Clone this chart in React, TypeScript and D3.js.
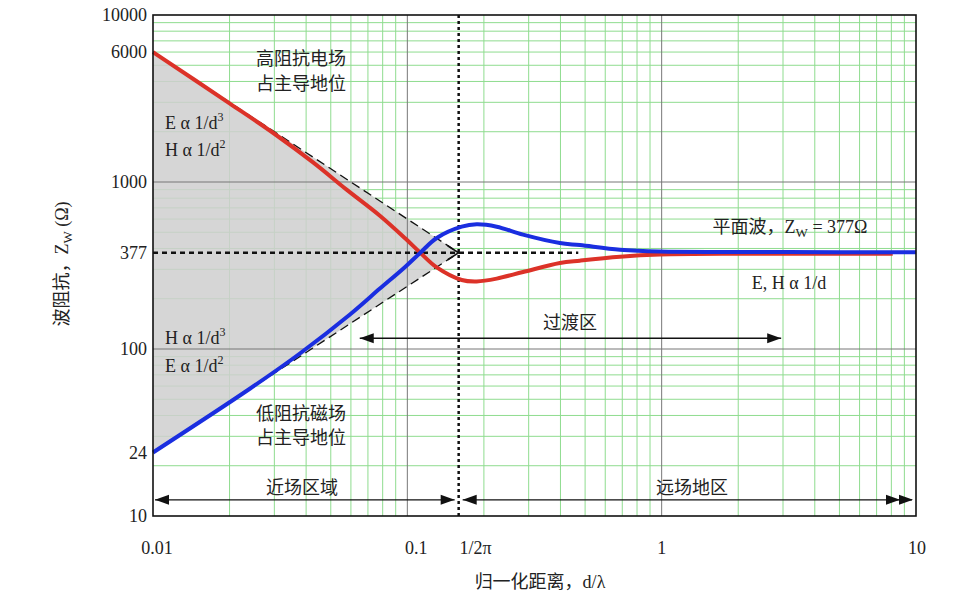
import React from "react";
import * as d3 from "d3";

// ---- data ----
const eDist = [0.01, 0.02, 0.03, 0.0426, 0.0577, 0.078, 0.098, 0.1122, 0.1305, 0.1636, 0.1874, 0.2246, 0.285, 0.398, 0.477, 0.686, 0.985, 2, 4, 8.1];
const eZ = [6000, 2960, 1945, 1310, 900, 628, 460, 378, 308, 259, 254, 264, 289, 327, 338, 357, 368, 372, 372, 372];

const hDist = [0.01, 0.0241, 0.0378, 0.0595, 0.078, 0.098, 0.1122, 0.1305, 0.1636, 0.1874, 0.2246, 0.285, 0.398, 0.477, 0.686, 0.985, 2, 5, 10];
const hZ = [24, 58, 94, 161, 230, 310, 376, 462, 540, 558, 540, 484, 431, 419, 393, 383, 381, 380, 380];

const xTickValues = [0.01, 0.1, 1 / (2 * Math.PI), 1, 10];
const xTickLabels = ["0.01", "0.1", "1/2π", "1", "10"];
const xTickDx = [4, 9, 17, 0, 1];
const yTickValues = [10, 24, 100, 377, 1000, 6000, 10000];
const yTickLabels = ["10", "24", "100", "377", "1000", "6000", "10000"];

const dMin = 0.01;
const dMax = 10;
const zMin = 10;
const zMax = 10000;
const dCross = 1 / (2 * Math.PI);
const zPlane = 377;
const eAsymStart = 6000;
const hAsymStart = 24;
const refLineEnd = 0.47;
const transStart = 0.065;
const transEnd = 2.95;
const transZ = 116;
const zoneZ = 12.5;

const W = 980;
const H = 600;
const L = 153, R = 916, T = 15, B = 516;

const FONT = "'Liberation Serif', 'Noto Sans CJK SC', serif";

export default function App() {
  const x = d3.scaleLog().domain([dMin, dMax]).range([L, R]);
  const y = d3.scaleLog().domain([zMin, zMax]).range([B, T]);

  const minorX: number[] = [];
  [0.01, 0.1, 1].forEach((dec) => {
    for (let k = 2; k <= 9; k++) minorX.push(dec * k);
  });
  const minorY: number[] = [];
  [10, 100, 1000].forEach((dec) => {
    for (let k = 2; k <= 9; k++) minorY.push(dec * k);
  });
  const majorX = [0.1, 1];
  const majorY = [100, 1000];

  const line = d3
    .line<[number, number]>()
    .x((p) => x(p[0]))
    .y((p) => y(p[1]))
    .curve(d3.curveCatmullRom.alpha(0.5));

  const ePath = line(eDist.map((d, i) => [d, eZ[i]]) as [number, number][]) || "";
  const hPath = line(hDist.map((d, i) => [d, hZ[i]]) as [number, number][]) || "";

  const tri = `M${x(dMin)},${y(eAsymStart)} L${x(dCross)},${y(zPlane)} L${x(dMin)},${y(hAsymStart)} Z`;

  // filled arrowhead, tip at (tx,ty), dir = +1 points right, -1 points left
  const head = (tx: number, ty: number, dir: number) => {
    const len = 14, hw = 5;
    return `M${tx},${ty} L${tx - dir * len},${ty - hw} L${tx - dir * len},${ty + hw} Z`;
  };

  const xc = x(dCross);
  const y377 = y(zPlane);
  const yZone = y(zoneZ);
  const yTrans = y(transZ);

  const textStyle: React.CSSProperties = { fontFamily: FONT, fontSize: 18, fill: "#222" };

  const sup = (s: string) => (
    <tspan fontSize={12} dy={-8}>{s}</tspan>
  );

  return (
    <svg
      width={W}
      height={H}
      viewBox={`0 0 ${W} ${H}`}
      style={{ position: "fixed", left: 0, top: 0, background: "#fff" }}
    >
      <rect x={0} y={0} width={W} height={H} fill="#fff" />
      {/* grid */}
      {minorX.map((v) => (
        <line key={"mx" + v} x1={x(v)} x2={x(v)} y1={T} y2={B} stroke="#8fdc8f" strokeWidth={1} />
      ))}
      {minorY.map((v) => (
        <line key={"my" + v} x1={L} x2={R} y1={y(v)} y2={y(v)} stroke="#8fdc8f" strokeWidth={1} />
      ))}
      {/* shaded near-field triangle */}
      <path d={tri} fill="#cfcfcf" fillOpacity={0.85} />
      {majorX.map((v) => (
        <line key={"Mx" + v} x1={x(v)} x2={x(v)} y1={T} y2={B} stroke="#777" strokeWidth={1} />
      ))}
      {majorY.map((v) => (
        <line key={"My" + v} x1={L} x2={R} y1={y(v)} y2={y(v)} stroke="#777" strokeWidth={1} />
      ))}

      {/* asymptotes */}
      <line x1={x(dMin)} y1={y(eAsymStart)} x2={xc} y2={y377} stroke="#111" strokeWidth={1.3} strokeDasharray="9,5" />
      <line x1={x(dMin)} y1={y(hAsymStart)} x2={xc} y2={y377} stroke="#111" strokeWidth={1.3} strokeDasharray="9,5" />
      <path d={`M${xc - 11},${y377 - 7} L${xc},${y377} L${xc - 11},${y377 + 7}`} fill="none" stroke="#111" strokeWidth={1.5} />

      {/* reference dotted lines */}
      <line x1={x(dMin)} x2={x(refLineEnd)} y1={y377} y2={y377} stroke="#111" strokeWidth={2.5} strokeDasharray="5,4" />
      <line x1={xc} x2={xc} y1={T} y2={B} stroke="#111" strokeWidth={2.5} strokeDasharray="3,3" />

      {/* curves */}
      <path d={ePath} fill="none" stroke="#dc3228" strokeWidth={4} strokeLinejoin="round" />
      <path d={hPath} fill="none" stroke="#1a2ee0" strokeWidth={4} strokeLinejoin="round" />

      {/* transition arrow */}
      <line x1={x(transStart)} x2={x(transEnd)} y1={yTrans} y2={yTrans} stroke="#111" strokeWidth={1.3} />
      <path d={head(x(transStart), yTrans, -1)} fill="#111" />
      <path d={head(x(transEnd), yTrans, 1)} fill="#111" />

      {/* near / far field arrows */}
      <line x1={x(dMin) + 2} x2={xc - 4} y1={yZone} y2={yZone} stroke="#111" strokeWidth={1.3} />
      <path d={head(x(dMin) + 2, yZone, -1)} fill="#111" />
      <path d={head(xc - 4, yZone, 1)} fill="#111" />
      <line x1={xc + 4} x2={x(dMax) - 4} y1={yZone} y2={yZone} stroke="#111" strokeWidth={1.3} />
      <path d={head(xc + 4, yZone, -1)} fill="#111" />
      <path d={head(x(dMax) - 16, yZone, 1)} fill="#111" />
      <path d={head(x(dMax) - 3, yZone, 1)} fill="#111" />

      {/* frame */}
      <rect x={L} y={T} width={R - L} height={B - T} fill="none" stroke="#111" strokeWidth={1.6} />

      {/* ticks */}
      {xTickValues.map((v, i) => (
        <text key={"xt" + i} x={x(v) + xTickDx[i]} y={554} textAnchor="middle" style={textStyle}>
          {xTickLabels[i]}
        </text>
      ))}
      {yTickValues.map((v, i) => (
        <text key={"yt" + i} x={147} y={y(v) + 6} textAnchor="end" style={textStyle}>
          {yTickLabels[i]}
        </text>
      ))}

      {/* axis titles */}
      <text x={540} y={588} textAnchor="middle" style={textStyle}>
        归一化距离，d/λ
      </text>
      <text transform={`translate(68,264) rotate(-90)`} textAnchor="middle" style={textStyle}>
        波阻抗，Z<tspan fontSize={13} dy={4}>W</tspan><tspan dy={-4}> (Ω)</tspan>
      </text>

      {/* annotations */}
      <text x={301} y={65} textAnchor="middle" style={textStyle}>高阻抗电场</text>
      <text x={301} y={90} textAnchor="middle" style={textStyle}>占主导地位</text>
      <text x={165} y={129} style={textStyle}>E α 1/d{sup("3")}</text>
      <text x={165} y={156} style={textStyle}>H α 1/d{sup("2")}</text>
      <text x={165} y={344} style={textStyle}>H α 1/d{sup("3")}</text>
      <text x={165} y={372} style={textStyle}>E α 1/d{sup("2")}</text>
      <text x={301} y={420} textAnchor="middle" style={textStyle}>低阻抗磁场</text>
      <text x={301} y={444} textAnchor="middle" style={textStyle}>占主导地位</text>
      <text x={302} y={494} textAnchor="middle" style={textStyle}>近场区域</text>
      <text x={692} y={494} textAnchor="middle" style={textStyle}>远场地区</text>
      <text x={570} y={329} textAnchor="middle" style={textStyle}>过渡区</text>
      <text x={790} y={233} textAnchor="middle" style={textStyle}>
        平面波，Z<tspan fontSize={13} dy={4}>W</tspan><tspan dy={-4}> = 377Ω</tspan>
      </text>
      <text x={789} y={289} textAnchor="middle" style={textStyle}>E, H α 1/d</text>
    </svg>
  );
}
